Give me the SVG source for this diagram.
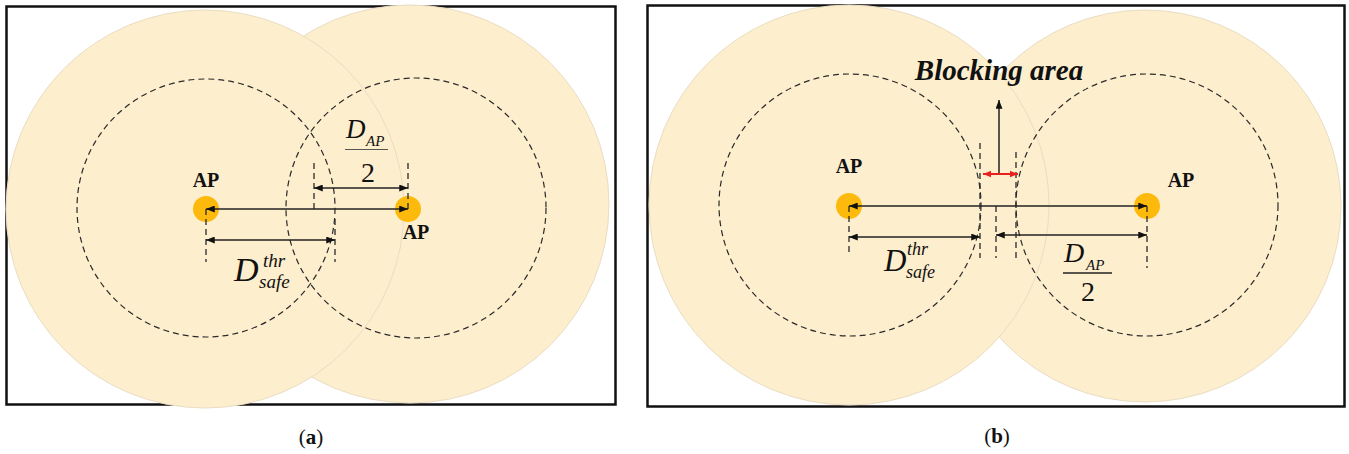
<svg xmlns="http://www.w3.org/2000/svg" width="1349" height="454" viewBox="0 0 1349 454">
<defs>
<style>
.frame{fill:#fff;stroke:#111;stroke-width:2.5}
.cov{fill:#FDEECD;stroke:#E9DDC3;stroke-width:1}
.thr{fill:none;stroke:#2a2a2a;stroke-width:1.2;stroke-dasharray:6 4}
.ap{fill:#FDBA0C}
.tick{stroke:#2a2a2a;stroke-width:1.3;stroke-dasharray:6 4;fill:none}
.dim{stroke:#222;stroke-width:1.5;fill:none}
.red{stroke:#E8201E;stroke-width:1.8;fill:none}
.apt{font-family:"Liberation Serif",serif;font-weight:bold;font-size:20px;fill:#111}
.mi{font-family:"Liberation Serif",serif;font-style:italic;fill:#111}
.num{font-family:"Liberation Serif",serif;fill:#111}
.cap{font-family:"Liberation Serif",serif;font-size:21px;fill:#111}
</style>
<marker id="ah" viewBox="0 0 10 8" refX="10" refY="4" markerWidth="9" markerHeight="7" orient="auto-start-reverse" markerUnits="userSpaceOnUse"><path d="M0,0 L10,4 L0,8 z" fill="#111"/></marker>
<marker id="ahr" viewBox="0 0 10 8" refX="10" refY="4" markerWidth="8" markerHeight="7" orient="auto-start-reverse" markerUnits="userSpaceOnUse"><path d="M0,0 L10,4 L0,8 z" fill="#E8201E"/></marker>
</defs>

<!-- Panel (a) -->
<g id="panel-a">
<rect class="frame" x="6.5" y="6.5" width="609" height="398"/>
<circle class="cov" cx="410" cy="204" r="199"/>
<circle class="cov" cx="205" cy="209" r="199"/>
</g>
<g id="a-threshold-left"><circle class="thr" cx="206" cy="208" r="129"/></g>
<g id="a-threshold-right"><circle class="thr" cx="416" cy="208" r="130"/></g>
<g id="a-ap-left"><circle class="ap" cx="206" cy="209" r="13"/><text class="apt" x="206" y="187" text-anchor="middle">AP</text></g>
<g id="a-ap-right"><circle class="ap" cx="408" cy="209" r="13"/><text class="apt" x="416" y="239" text-anchor="middle">AP</text></g>
<g id="a-label-dap">
<text class="mi" x="346" y="138" font-size="27">D</text>
<text class="mi" x="366" y="146" font-size="15">AP</text>
<line x1="345" y1="149.5" x2="388" y2="149.5" stroke="#555" stroke-width="1"/>
<text class="num" x="368" y="182" font-size="28" text-anchor="middle">2</text>
</g>
<g id="a-label-dsafe">
<text class="mi" x="234" y="281" font-size="34">D</text>
<text class="mi" x="263" y="267" font-size="19">thr</text>
<text class="mi" x="259" y="288" font-size="19">safe</text>
</g>
<g id="caption-a"><text class="cap" x="311" y="444" text-anchor="middle">(<tspan font-weight="bold">a</tspan>)</text></g>

<!-- Panel (b) -->
<g id="panel-b">
<rect class="frame" x="647.5" y="5.5" width="697" height="401"/>
<circle class="cov" cx="1145" cy="206" r="196"/>
<circle class="cov" cx="849" cy="205" r="200"/>
</g>
<g id="b-threshold-left"><circle class="thr" cx="850" cy="205" r="131"/></g>
<g id="b-threshold-right"><circle class="thr" cx="1147" cy="205" r="131"/></g>
<g id="b-ap-left"><circle class="ap" cx="849" cy="206" r="13"/><text class="apt" x="849" y="173" text-anchor="middle">AP</text></g>
<g id="b-ap-right"><circle class="ap" cx="1147" cy="206" r="13"/><text class="apt" x="1181" y="187" text-anchor="middle">AP</text></g>
<g id="b-blocking-label"><text x="999" y="80" text-anchor="middle" font-family="'Liberation Serif',serif" font-weight="bold" font-style="italic" font-size="29" fill="#111">Blocking area</text></g>
<g id="b-label-dsafe">
<text class="mi" x="884" y="271" font-size="31">D</text>
<text class="mi" x="907" y="255" font-size="18">thr</text>
<text class="mi" x="906" y="278" font-size="18">safe</text>
</g>
<g id="b-label-dap">
<text class="mi" x="1064" y="262" font-size="28">D</text>
<text class="mi" x="1086" y="270" font-size="15">AP</text>
<line x1="1063" y1="273" x2="1112" y2="273" stroke="#222" stroke-width="1.5"/>
<text class="num" x="1088" y="301" font-size="28" text-anchor="middle">2</text>
</g>
<g id="caption-b"><text class="cap" x="997" y="443" text-anchor="middle">(<tspan font-weight="bold">b</tspan>)</text></g>

<!-- Connectors -->
<g id="connectors">
<!-- (a) -->
<line class="tick" x1="314" y1="163" x2="314" y2="209"/>
<line class="tick" x1="408" y1="163" x2="408" y2="209"/>
<line class="tick" x1="206" y1="209" x2="206" y2="262"/>
<line class="tick" x1="335" y1="219" x2="335" y2="262"/>
<line class="dim" x1="206" y1="209" x2="408" y2="209" marker-start="url(#ah)" marker-end="url(#ah)"/>
<line class="dim" x1="314" y1="188" x2="408" y2="188" marker-start="url(#ah)" marker-end="url(#ah)"/>
<line class="dim" x1="206" y1="240" x2="335" y2="240" marker-start="url(#ah)" marker-end="url(#ah)"/>
<!-- (b) -->
<line class="tick" x1="980" y1="143" x2="980" y2="258"/>
<line class="tick" x1="1016" y1="152" x2="1016" y2="258"/>
<line class="tick" x1="996" y1="206" x2="996" y2="258"/>
<line class="tick" x1="849" y1="206" x2="849" y2="252"/>
<line class="tick" x1="1147" y1="206" x2="1147" y2="268"/>
<line class="dim" x1="849" y1="206" x2="1147" y2="206" marker-start="url(#ah)" marker-end="url(#ah)"/>
<line class="dim" x1="849" y1="237" x2="980" y2="237" marker-start="url(#ah)" marker-end="url(#ah)"/>
<line class="dim" x1="996" y1="235" x2="1147" y2="235" marker-start="url(#ah)" marker-end="url(#ah)"/>
<line class="dim" x1="999" y1="174" x2="999" y2="100" marker-end="url(#ah)"/>
<line class="red" x1="983" y1="174" x2="1018" y2="174" marker-start="url(#ahr)" marker-end="url(#ahr)"/>
</g>
</svg>
